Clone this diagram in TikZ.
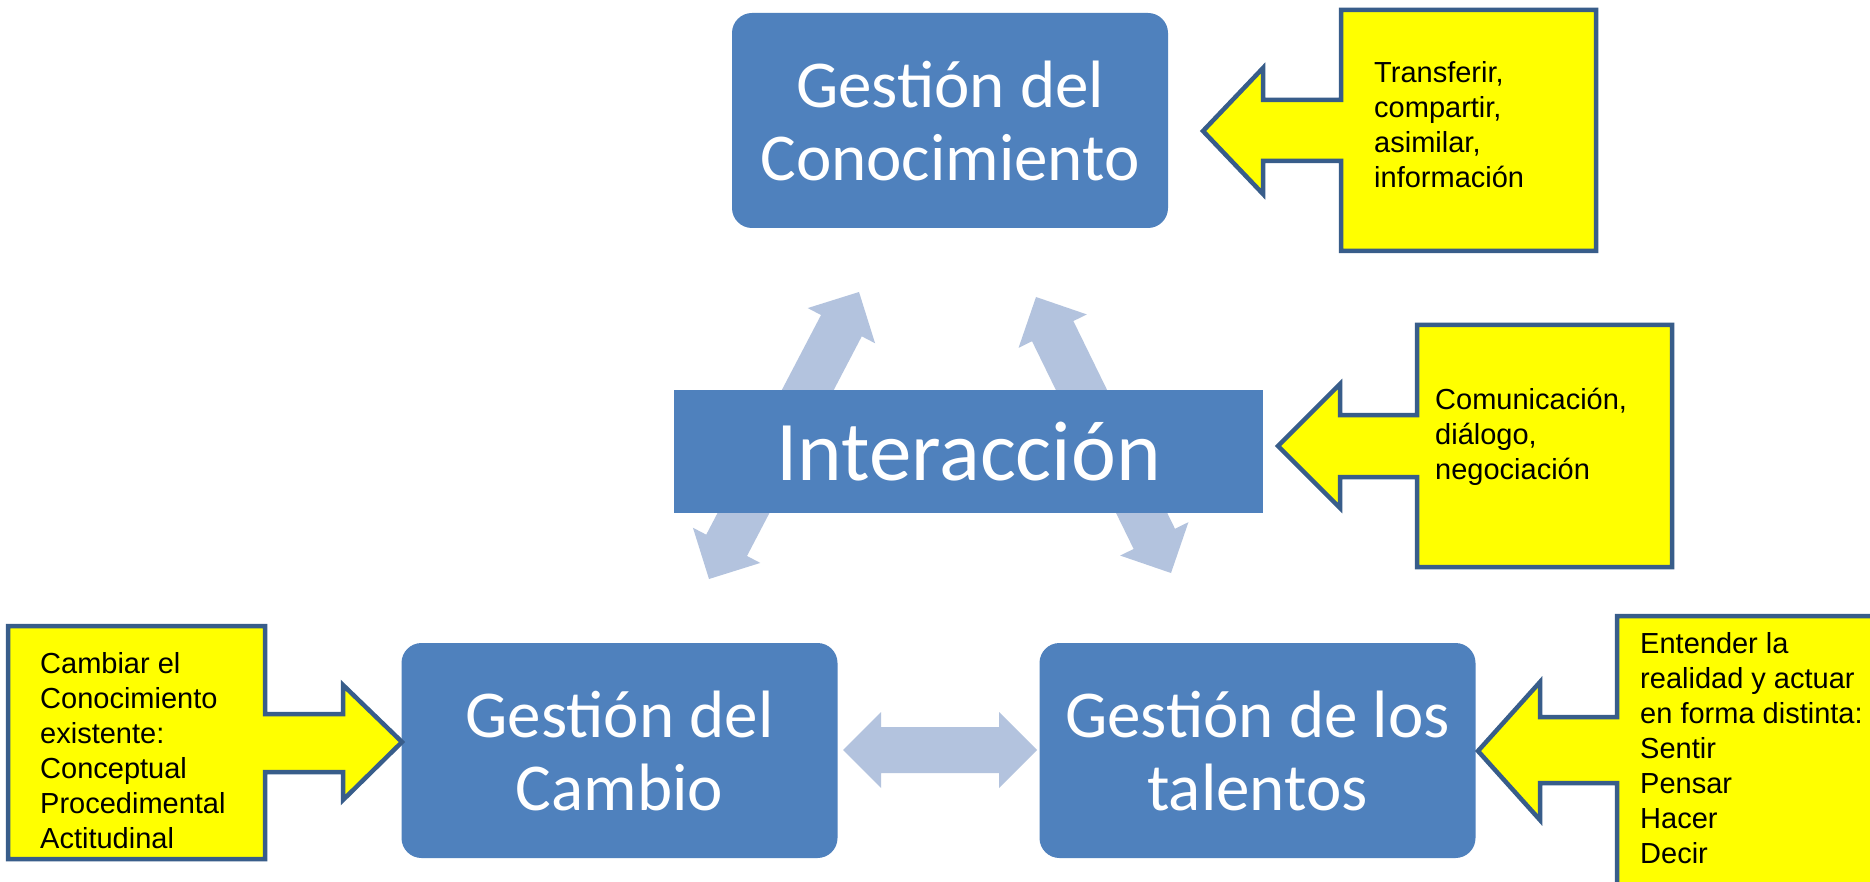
\documentclass[tikz,border=0pt]{standalone}
\usepackage{fontspec}
\setmainfont{Liberation Sans}
\newfontfamily\calfont{Carlito}
\usetikzlibrary{calc}
\definecolor{boxblue}{HTML}{4F81BD}
\definecolor{arrowblue}{HTML}{B3C3DE}
\definecolor{calloutborder}{HTML}{385D8A}
\definecolor{calloutfill}{HTML}{FFFF00}
\newcommand\dblarrow[2]{%
  \coordinate (p1) at ($(#1)!38pt!(#2)$);
  \coordinate (p2) at ($(#2)!38pt!(#1)$);
  \fill[arrowblue] (#1) -- ($(p1)!38pt!90:(#2)$) -- ($(p1)!23pt!90:(#2)$)
    -- ($(p2)!23pt!-90:(#1)$) -- ($(p2)!38pt!-90:(#1)$) -- (#2)
    -- ($(p2)!38pt!90:(#1)$) -- ($(p2)!23pt!90:(#1)$)
    -- ($(p1)!23pt!-90:(#2)$) -- ($(p1)!38pt!-90:(#2)$) -- cycle;}
\begin{document}
\begin{tikzpicture}[x=1pt,y=-1pt,
  mainbox/.style={fill=boxblue, rounded corners=20pt, text=white,
    font=\calfont\fontsize{67}{73}\selectfont, align=center, inner sep=0pt,
    minimum width=436pt, minimum height=215pt},
  interbox/.style={fill=boxblue, text=white,
    font=\calfont\fontsize{85}{90}\selectfont, align=center, inner sep=0pt,
    minimum width=589pt, minimum height=123pt},
  callout/.style={fill=calloutfill, draw=calloutborder, line width=4.5pt, line join=miter},
  callouttext/.style={anchor=north west, inner sep=0pt, align=left,
    font=\fontsize{29}{35}\selectfont, text=black}]
\useasboundingbox (0,0) rectangle (1870,882);
\clip (0,0) rectangle (1870,882);
\fill[white] (0,0) rectangle (1870,882);

% arrows between the boxes (behind)
\coordinate (la1) at (709,579);
\coordinate (la2) at (859,292);
\coordinate (ra1) at (1171,573);
\coordinate (ra2) at (1036,297);
\coordinate (ha1) at (843,750);
\coordinate (ha2) at (1037,750);
\dblarrow{la1}{la2}
\dblarrow{ra1}{ra2}
\dblarrow{ha1}{ha2}

% main boxes
\node[mainbox] (gc) at (950,120.5) {Gestión del\\Conocimiento};
\node[interbox] (int) at (968.5,451.5) {Interacción};
\node[mainbox] (gcam) at (619.5,750.5) {Gestión del\\Cambio};
\node[mainbox] (gtal) at (1257.5,750.5) {Gestión de los\\talentos};

% callouts
\draw[callout] (1341,10) -- (1596,10) -- (1596,251) -- (1341,251) -- (1341,161)
  -- (1263,161) -- (1263,194) -- (1203,131) -- (1263,68) -- (1263,100) -- (1341,100) -- cycle;
\node[callouttext] (t1) at (1374,61) {Transferir,\\compartir,\\asimilar,\\información};

\draw[callout] (1417,325) -- (1672,325) -- (1672,567) -- (1417,567) -- (1417,477)
  -- (1340,477) -- (1340,508) -- (1278,446) -- (1340,384) -- (1340,415) -- (1417,415) -- cycle;
\node[callouttext] (t2) at (1435,388) {Comunicación,\\diálogo,\\negociación};

\draw[callout] (8,626) -- (265,626) -- (265,714) -- (343,714) -- (343,685) -- (402,742)
  -- (343,800) -- (343,772) -- (265,772) -- (265,859) -- (8,859) -- cycle;
\node[callouttext] (t3) at (40,652) {Cambiar el\\Conocimiento\\existente:\\Conceptual\\Procedimental\\Actitudinal};

\draw[callout] (1617,616) -- (1900,616) -- (1900,900) -- (1617,900) -- (1617,783)
  -- (1540,783) -- (1540,820) -- (1478,751) -- (1540,682) -- (1540,717) -- (1617,717) -- cycle;
\node[callouttext] (t4) at (1640,632) {Entender la\\realidad y actuar\\en forma distinta:\\Sentir\\Pensar\\Hacer\\Decir};
\end{tikzpicture}
\end{document}
